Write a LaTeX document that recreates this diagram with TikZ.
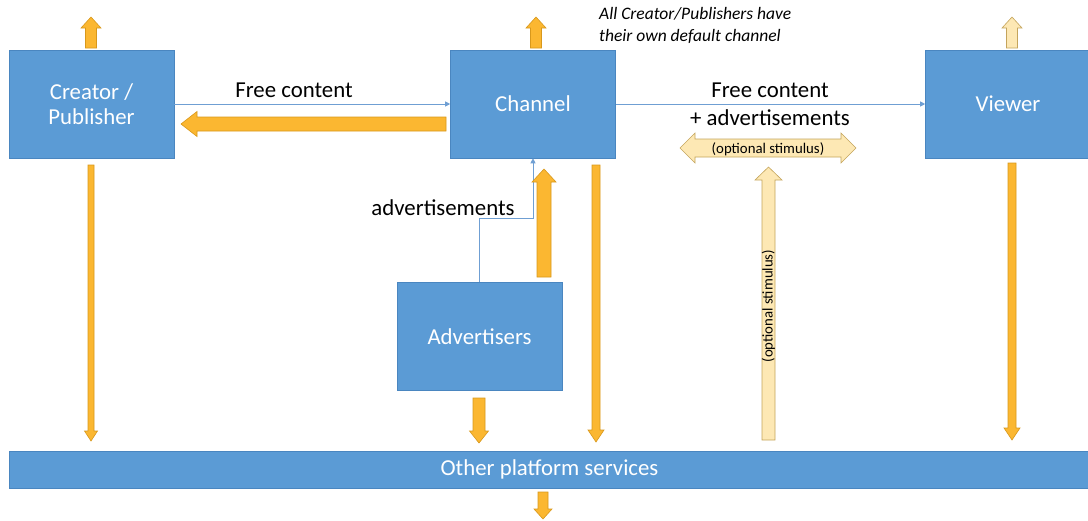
\documentclass[tikz,border=0pt]{standalone}
\usepackage{fontspec}
\setmainfont{Carlito}
\usetikzlibrary{arrows.meta,calc}
\definecolor{boxblue}{HTML}{5B9BD5}
\definecolor{boxedge}{HTML}{4A86C0}
\definecolor{linkblue}{HTML}{6F9FD3}
\definecolor{gold}{HTML}{FBB731}
\definecolor{goldedge}{HTML}{D8981C}
\definecolor{pale}{HTML}{FDE8B4}
\definecolor{paleedge}{HTML}{C4A45C}
\newcommand\barrow[7]{%
  \path[#7, shift={#1}, rotate=#2] (0,{-#4/2}) -- ({#3-#6},{-#4/2}) -- ({#3-#6},{-#5/2}) -- (#3,0) -- ({#3-#6},{#5/2}) -- ({#3-#6},{#4/2}) -- (0,{#4/2}) -- cycle;}
\newcommand\dbarrow[6]{% #1 left end, #2 length, #3 shaft, #4 head, #5 headlen, #6 style
  \path[#6, shift={#1}] (0,0) -- (#5,{-#4/2}) -- (#5,{-#3/2}) -- ({#2-#5},{-#3/2}) -- ({#2-#5},{-#4/2}) -- (#2,0) -- ({#2-#5},{#4/2}) -- ({#2-#5},{#3/2}) -- (#5,{#3/2}) -- (#5,{#4/2}) -- cycle;}
\tikzset{
  box/.style={fill=boxblue, draw=boxedge, line width=0.6pt, text=white, font=\fontsize{22.8}{25}\selectfont, align=center, minimum width=165pt, minimum height=108pt, inner sep=0pt},
  lbl/.style={font=\fontsize{22.8}{25}\selectfont, inner sep=0pt, align=center},
  small/.style={font=\fontsize{14.8}{16}\selectfont, inner sep=0pt},
  link/.style={draw=linkblue, line width=0.8pt, -{Triangle[width=5pt,length=5pt]}},
  goldarrow/.style={fill=gold, draw=goldedge, line width=0.6pt},
  palearrow/.style={fill=pale, draw=paleedge, line width=0.6pt},
}
\begin{document}
\begin{tikzpicture}[x=1pt,y=-1pt]
\useasboundingbox (0,0) rectangle (1088,520);
% boxes
\node[box] (creator) at (91.5,104) {Creator /\\Publisher};
\node[box] (channel) at (533,104) {Channel};
\node[box] (viewer) at (1008,104) {Viewer};
\node[box] (adv) at (479.5,336.5) {Advertisers};
\node[box, minimum width=1081pt, minimum height=37pt] (bar) at (549.5,469.5) {Other platform services};
% labels
\node[lbl] (fc1) at (294,90) {Free content};
\node[lbl] (fc2) at (770,90) {Free content};
\node[lbl] (fc3) at (770,118) {+ advertisements};
\node[lbl] (adl) at (443,208) {advertisements};
\node[font=\fontsize{17.5}{22}\selectfont\itshape, align=left, anchor=west, inner sep=0pt] (note) at (599,25) {All Creator/Publishers have\\their own default channel};
% thin blue connectors
\draw[link] (creator.east) -- (channel.west);
\draw[link] (channel.east) -- (viewer.west);
\draw[link] (adv.north) |- ($(channel.south)+(0,60)$) -- (channel.south);
% gold block arrows
\barrow{(91,48)}{90}{31}{11}{20}{11}{goldarrow}
\barrow{(536,48)}{90}{31}{11}{20}{11}{goldarrow}
\barrow{(1012,48)}{90}{31}{11}{20}{11}{palearrow}
\barrow{(91,165)}{-90}{276}{6}{13}{10}{goldarrow}
\barrow{(596,165)}{-90}{277}{8}{16}{12}{goldarrow}
\barrow{(1012,163)}{-90}{277}{8}{16}{12}{goldarrow}
\barrow{(479,398)}{-90}{45}{12}{19}{12}{goldarrow}
\barrow{(543,492)}{-90}{27}{10}{18}{10}{goldarrow}
\barrow{(544,277)}{90}{108}{14}{24}{13}{goldarrow}
\barrow{(446,124)}{180}{265}{14}{25}{16}{goldarrow}
% pale stimulus arrows
\dbarrow{(680,148)}{176}{18}{30}{15}{palearrow}
\barrow{(768.5,440)}{90}{273}{13}{27}{13}{palearrow}
\node[small] (st1) at (768,149) {(optional stimulus)};
\node[small, rotate=90] (st2) at (768.5,306) {(optional stimulus)};
\end{tikzpicture}
\end{document}
